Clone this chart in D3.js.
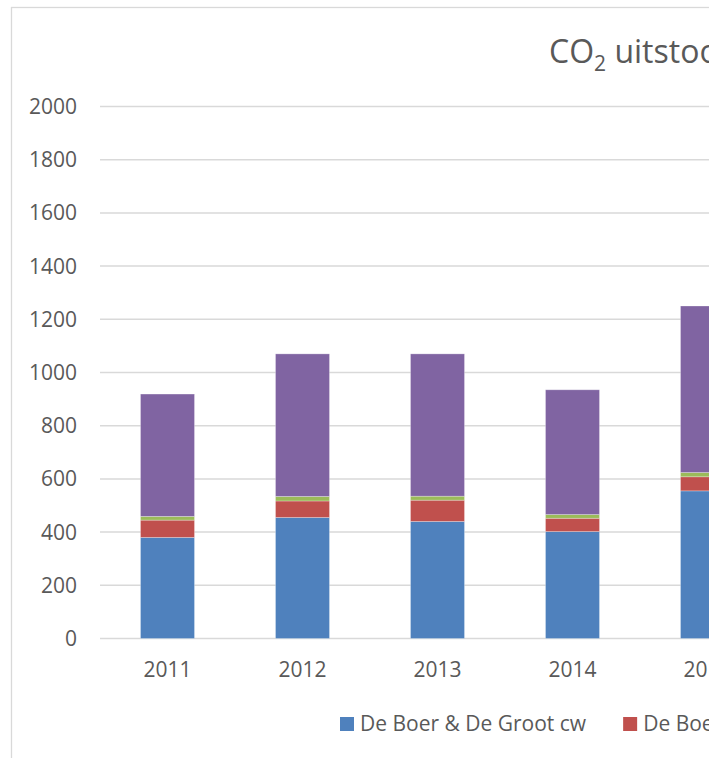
<!DOCTYPE html>
<html>
<head>
<meta charset="utf-8">
<script src="https://cdn.jsdelivr.net/npm/d3@7/dist/d3.min.js"></script>
<style>
  html, body { margin: 0; padding: 0; background: #fff; }
  svg { display: block; }
  text { font-family: "Open Sans", "Liberation Sans", sans-serif; fill: #595959; }
</style>
</head>
<body>
<script>
const years = ["2011", "2012", "2013", "2014", "2015"];
const seriesNames = ["De Boer & De Groot cw", "De Boer & De Groot elektra", "De Boer & De Groot overig", "Vervoer"];
const cwValues = [380, 455, 440, 402, 555];
const elektraValues = [65, 62, 80, 50, 53];
const overigValues = [14, 17, 15, 14, 16];
const vervoerValues = [460, 536, 535, 469, 626];
const yTicks = [0, 200, 400, 600, 800, 1000, 1200, 1400, 1600, 1800, 2000];
const colors = ["#4f81bd", "#c0504d", "#9bbb59", "#8064a2"];

const W = 724, H = 758, visibleW = 709;
const svg = d3.select("body").append("svg").attr("width", W).attr("height", H);
svg.append("defs").append("clipPath").attr("id", "vis")
  .append("rect").attr("x", 0).attr("y", 0).attr("width", visibleW).attr("height", H);
const g = svg.append("g").attr("clip-path", "url(#vis)");

// chart border
g.append("rect").attr("x", 11.5).attr("y", 7.5).attr("width", 900).attr("height", 900)
  .attr("fill", "#fff").attr("stroke", "#d9d9d9").attr("stroke-width", 1.3);

const x = d3.scaleBand().domain(years).range([100, 100 + 135 * years.length]).paddingInner(0.6).paddingOuter(0.3);
const y = d3.scaleLinear().domain([0, 2000]).range([638.5, 106.5]);

// gridlines
g.append("g").selectAll("line").data(yTicks).join("line")
  .attr("x1", 100).attr("x2", 1000)
  .attr("y1", d => y(d)).attr("y2", d => y(d))
  .attr("stroke", "#d9d9d9").attr("stroke-width", 1.5);

// y labels
g.append("g").selectAll("text").data(yTicks).join("text")
  .attr("x", 77).attr("y", d => y(d)).attr("dy", "0.36em")
  .attr("text-anchor", "end").attr("font-size", 21).text(d => d);

// stacked bars
const table = years.map((yr, i) => ({ year: yr, s0: cwValues[i], s1: elektraValues[i], s2: overigValues[i], s3: vervoerValues[i] }));
const stack = d3.stack().keys(["s0", "s1", "s2", "s3"])(table);
g.append("g").selectAll("g").data(stack).join("g")
  .attr("fill", (d, i) => colors[i])
  .selectAll("rect").data(d => d).join("rect")
  .attr("x", d => x(d.data.year))
  .attr("width", x.bandwidth())
  .attr("y", d => y(d[1]))
  .attr("height", d => y(d[0]) - y(d[1]))
  .attr("stroke", "#ffffff").attr("stroke-opacity", 0.35).attr("stroke-width", 0.8);

// x labels
g.append("g").selectAll("text").data(years).join("text")
  .attr("x", d => x(d) + x.bandwidth() / 2).attr("y", 677)
  .attr("text-anchor", "middle").attr("font-size", 21).text(d => d);

// title
const title = g.append("text").attr("x", 549).attr("y", 63).attr("font-size", 32);
title.append("tspan").text("CO");
title.append("tspan").attr("font-size", 21).attr("dy", 8).text("2");
title.append("tspan").attr("dy", -8).text(" uitstoot");

// legend
const leg = g.append("g");
let lx = 340;
seriesNames.forEach((name, i) => {
  leg.append("rect").attr("x", lx).attr("y", 717).attr("width", 14).attr("height", 14).attr("fill", colors[i]);
  const t = leg.append("text").attr("x", lx + 20).attr("y", 731).attr("font-size", 21).text(name);
  lx += 20 + t.node().getComputedTextLength() + 37;
});
</script>
</body>
</html>
